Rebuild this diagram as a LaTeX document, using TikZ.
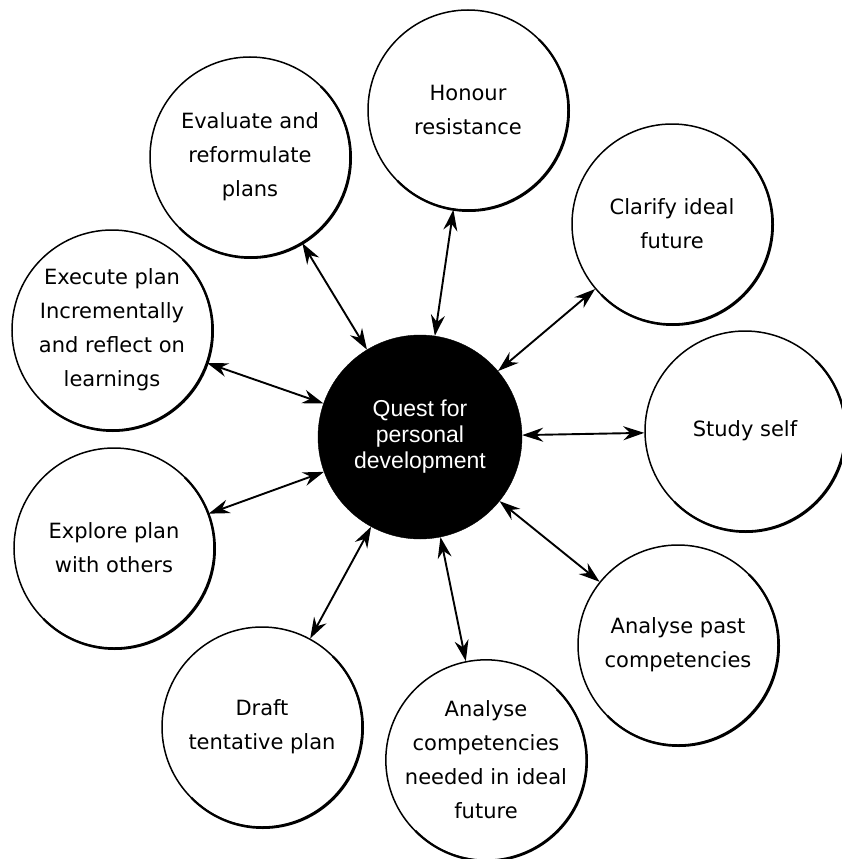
\documentclass[tikz,border=0pt]{standalone}
\usepackage{fontspec}
\setmainfont{DejaVu Sans}
\newfontfamily\centerfont{Liberation Sans}
\usetikzlibrary{arrows.meta}
\tikzset{
  outer/.style={circle, draw=black, line width=1.5pt, fill=white, minimum size=200pt, inner sep=0pt, align=center,
    font=\fontsize{21pt}{34pt}\selectfont, text=black},
  hub/.style={circle, draw=black, fill=black, minimum size=204pt, inner sep=0pt, align=center,
    font=\centerfont\fontsize{23pt}{26pt}\selectfont, text=white},
  link/.style={line width=1.9pt, {Stealth[length=21pt,width=14pt,inset=7pt]}-{Stealth[length=21pt,width=14pt,inset=7pt]}},
  shade/.style={line width=2.2pt}
}
\begin{document}
\begin{tikzpicture}[x=1pt,y=-1pt]
\useasboundingbox (0,0) rectangle (842,859);
\node[hub] (q) at (420,437) {Quest for\\personal\\development};
\node[outer] (hon) at (468,110) {Honour\\resistance};
\node[outer] (cla) at (672,224) {Clarify ideal\\future};
\node[outer] (stu) at (745,431) {Study self};
\node[outer] (pas) at (678,645) {Analyse past\\competencies};
\node[outer] (nee) at (486,760) {Analyse\\competencies\\needed in ideal\\future};
\node[outer] (dra) at (262,727) {Draft\\tentative plan};
\node[outer] (exp) at (114,548) {Explore plan\\with others};
\node[outer] (exe) at (112,330) {Execute plan\\Incrementally\\and reflect on\\learnings};
\node[outer] (eva) at (250,157) {Evaluate and\\reformulate\\plans};
\foreach \n in {hon,cla,stu,pas,nee,dra,exp,exe,eva}{
  \begin{scope}
    \clip ([shift={(-160,160)}]\n.center) -- ([shift={(160,-160)}]\n.center) -- ([shift={(260,260)}]\n.center) -- cycle;
    \draw[shade] ([shift={(0.9,0.9)}]\n.center) circle[radius=100pt];
  \end{scope}
  \draw[link] (q) -- (\n);
}
\end{tikzpicture}
\end{document}
